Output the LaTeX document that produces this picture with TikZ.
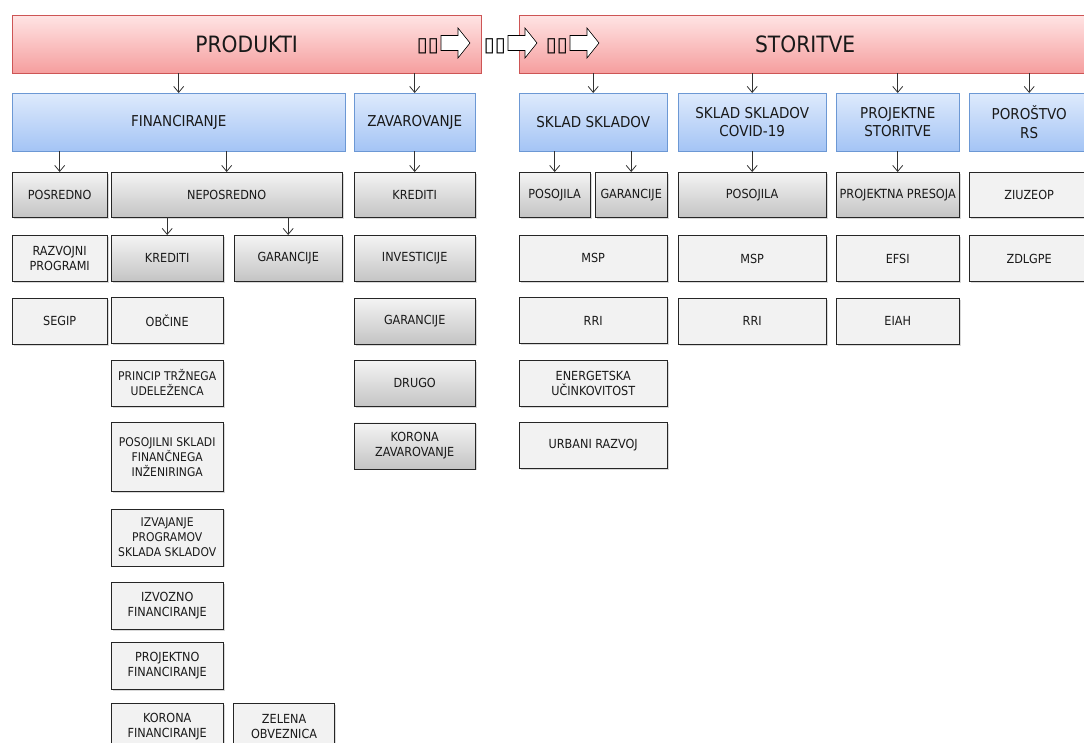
\documentclass[tikz,border=0pt]{standalone}
\usepackage{fontspec}
\setmainfont{DejaVu Sans Condensed}
\newfontfamily\symfont{DejaVu Sans}
\usetikzlibrary{positioning,shadows,arrows.meta}

\definecolor{txt}{RGB}{25,25,25}
\definecolor{redtop}{RGB}{255,228,228}
\definecolor{redbot}{RGB}{245,158,158}
\definecolor{redline}{RGB}{205,85,85}
\definecolor{bluetop}{RGB}{222,234,252}
\definecolor{bluebot}{RGB}{164,196,245}
\definecolor{blueline}{RGB}{108,152,212}
\definecolor{graytop}{RGB}{244,244,244}
\definecolor{graybot}{RGB}{196,196,196}
\definecolor{leafgray}{RGB}{242,242,242}
\definecolor{arrowgray}{RGB}{50,50,50}

\tikzset{
  base/.style={draw, inner sep=1pt, align=center, text=txt, font=\fontsize{12.5}{15}\selectfont},
  main/.style={base, draw=redline, top color=redtop, bottom color=redbot, minimum height=58pt, font=\fontsize{22.5}{26}\selectfont},
  group/.style={base, draw=blueline, top color=bluetop, bottom color=bluebot, minimum height=58pt, font=\fontsize{15}{18.5}\selectfont},
  item/.style={base, draw=black!85, top color=graytop, bottom color=graybot, minimum height=45pt,
    drop shadow={shadow xshift=1.5pt, shadow yshift=-1.5pt, opacity=0.3}},
  leaf/.style={base, draw=black!85, fill=leafgray, minimum height=46pt,
    drop shadow={shadow xshift=1.5pt, shadow yshift=-1.5pt, opacity=0.3}},
  tofu/.style={inner sep=0pt, anchor=base east, text=black, font=\symfont\fontsize{20}{20}\selectfont},
  blockarrow/.pic={\draw[fill=white, line width=0.6pt] (0,-7.5) -- (17,-7.5) -- (17,-15) -- (29,0) -- (17,15) -- (17,7.5) -- (0,7.5) -- cycle;},
  conn/.style={draw=arrowgray, line width=0.8pt, -{Straight Barb[length=6pt,width=10pt]}},
}

\begin{document}
\begin{tikzpicture}[x=1pt, y=-1pt]
\useasboundingbox (0,0) rectangle (1084,742);
\clip (0,0) rectangle (1084,742);

% top bars
\node (prod) [main, anchor=north west, minimum width=469pt] at (12,15) {PRODUKTI};
\node (stor) [main, anchor=north west, minimum width=572pt] at (519,15) {STORITVE};
\node (t1) [tofu] at (439,51) {▯▯};
\node (t2) [tofu] at (506,51) {▯▯};
\node (t3) [tofu] at (568,51) {▯▯};
\pic at (441,43) {blockarrow};
\pic at (508,43) {blockarrow};
\pic at (570,43) {blockarrow};

% second row
\node (fin)   [group, anchor=north west, minimum width=333pt] at (12,93)  {FINANCIRANJE};
\node (zav)   [group, anchor=north west, minimum width=121pt] at (354,93) {ZAVAROVANJE};
\node (sklad) [group, anchor=north west, minimum width=148pt] at (519,93) {SKLAD SKLADOV};
\node (covid) [group, anchor=north west, minimum width=148pt] at (678,93) {SKLAD SKLADOV\\COVID-19};
\node (proj)  [group, anchor=north west, minimum width=123pt] at (836,93) {PROJEKTNE\\STORITVE};
\node (poro)  [group, anchor=north west, minimum width=120pt] at (969,93) {POROŠTVO\\RS};

% third row
\node (posr)    [item, anchor=north west, minimum width=95pt]  at (12,172)  {POSREDNO};
\node (neposr)  [item, anchor=north west, minimum width=231pt] at (111,172) {NEPOSREDNO};
\node (zkred)   [item, anchor=north west, minimum width=121pt] at (354,172) {KREDITI};
\node (posoj)   [item, anchor=north west, minimum width=71pt]  at (519,172) {POSOJILA};
\node (garan)   [item, anchor=north west, minimum width=72pt, font=\fontsize{12.5}{15}\selectfont] at (595,172) {GARANCIJE};
\node (cposoj)  [item, anchor=north west, minimum width=148pt] at (678,172) {POSOJILA};
\node (presoja) [item, anchor=north west, minimum width=123pt, font=\fontsize{12.6}{15}\selectfont] at (836,172) {PROJEKTNA PRESOJA};
\node (ziuzeop) [leaf, anchor=north west, minimum width=120pt, minimum height=45pt] at (969,172) {ZIUZEOP};

% fourth row
\node (razvoj) [leaf, minimum width=95pt, below=18pt of posr] {RAZVOJNI\\PROGRAMI};
\node (kred)   [item, anchor=north west, minimum width=112pt, minimum height=46pt] at (111,235) {KREDITI};
\node (ngaran) [item, anchor=north west, minimum width=108pt, minimum height=46pt] at (234,235) {GARANCIJE};
\node (invest) [item, minimum width=121pt, minimum height=46pt, below=18pt of zkred] {INVESTICIJE};
\node (msp)    [leaf, anchor=north west, minimum width=148pt] at (519,235) {MSP};
\node (cmsp)   [leaf, minimum width=148pt, below=18pt of cposoj] {MSP};
\node (efsi)   [leaf, minimum width=123pt, below=18pt of presoja] {EFSI};
\node (zdlgpe) [leaf, minimum width=120pt, below=18pt of ziuzeop] {ZDLGPE};

% fifth row and below
\node (segip)  [leaf, minimum width=95pt, below=16pt of razvoj] {SEGIP};
\node (obcine) [leaf, minimum width=112pt, below=16pt of kred] {OBČINE};
\node (zgaran) [item, minimum width=121pt, minimum height=46pt, below=16pt of invest] {GARANCIJE};
\node (rri)    [leaf, minimum width=148pt, below=16pt of msp] {RRI};
\node (crri)   [leaf, minimum width=148pt, below=16pt of cmsp] {RRI};
\node (eiah)   [leaf, minimum width=123pt, below=16pt of efsi] {EIAH};

\node (princip)   [leaf, minimum width=112pt, below=16pt of obcine, font=\fontsize{12}{15}\selectfont] {PRINCIP TRŽNEGA\\UDELEŽENCA};
\node (drugo)     [item, minimum width=121pt, minimum height=46pt, below=16pt of zgaran] {DRUGO};
\node (energ)     [leaf, minimum width=148pt, below=16pt of rri] {ENERGETSKA\\UČINKOVITOST};
\node (posojilni) [leaf, minimum width=112pt, minimum height=69pt, below=16pt of princip, font=\fontsize{12}{15}\selectfont] {POSOJILNI SKLADI\\FINANČNEGA\\INŽENIRINGA};
\node (kzav)      [item, minimum width=121pt, minimum height=46pt, below=16pt of drugo] {KORONA\\ZAVAROVANJE};
\node (urbani)    [leaf, minimum width=148pt, below=16pt of energ] {URBANI RAZVOJ};
\node (izvaj)     [leaf, minimum width=112pt, minimum height=57pt, below=17pt of posojilni, font=\fontsize{12}{15}\selectfont] {IZVAJANJE\\PROGRAMOV\\SKLADA SKLADOV};
\node (izvoz)     [leaf, minimum width=112pt, minimum height=47pt, below=16pt of izvaj] {IZVOZNO\\FINANCIRANJE};
\node (projfin)   [leaf, minimum width=112pt, minimum height=47pt, below=13pt of izvoz] {PROJEKTNO\\FINANCIRANJE};
\node (kfin)      [leaf, minimum width=112pt, minimum height=47pt, below=13pt of projfin] {KORONA\\FINANCIRANJE};
\node (zelena)    [leaf, minimum width=101pt, minimum height=47pt, right=10pt of kfin] {ZELENA\\OBVEZNICA};

% connectors
\draw[conn] (prod.south -| fin) -- (fin);
\draw[conn] (prod.south -| zav) -- (zav);
\draw[conn] (fin.south -| posr) -- (posr);
\draw[conn] (fin.south -| neposr) -- (neposr);
\draw[conn] (zav) -- (zkred);
\draw[conn] (neposr.south -| kred) -- (kred);
\draw[conn] (neposr.south -| ngaran) -- (ngaran);
\draw[conn] (stor.south -| sklad) -- (sklad);
\draw[conn] (stor.south -| covid) -- (covid);
\draw[conn] (stor.south -| proj) -- (proj);
\draw[conn] (stor.south -| poro) -- (poro);
\draw[conn] (sklad.south -| posoj) -- (posoj);
\draw[conn] (sklad.south -| garan) -- (garan);
\draw[conn] (covid) -- (cposoj);
\draw[conn] (proj) -- (presoja);

\end{tikzpicture}
\end{document}
